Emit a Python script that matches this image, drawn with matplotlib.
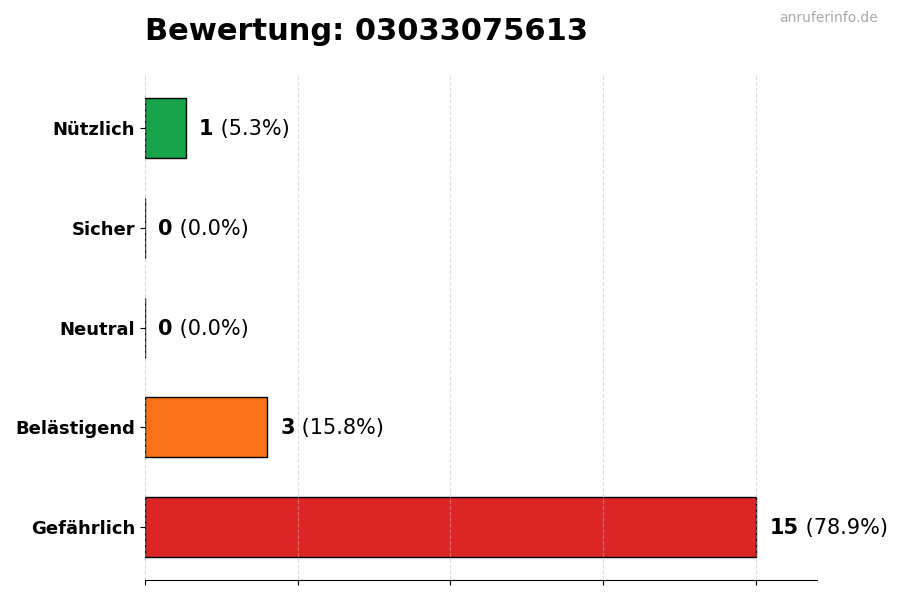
import matplotlib
matplotlib.use('Agg')
import matplotlib.pyplot as plt

# data, bottom to top
categories = ['Gefährlich', 'Belästigend', 'Neutral', 'Sicher', 'Nützlich']
counts = [15, 3, 0, 0, 1]
percents = [78.9, 15.8, 0.0, 0.0, 5.3]
colors = ['#dc2626', '#f97316', '#9ca3af', '#3b82f6', '#16a34a']
title = 'Bewertung: 03033075613'
watermark = 'anruferinfo.de'

fig = plt.figure(figsize=(9, 6), dpi=100)
ax = fig.add_axes([0.161, 0.033, 0.747, 0.842])

ypos = list(range(len(categories)))
ax.barh(ypos, counts, height=0.6, color=colors, edgecolor='black', linewidth=1, zorder=1)

xmax = max(counts)
ax.set_xlim(0, xmax * 1.1)
ax.set_xticks([xmax * k / 4 for k in range(5)])
ax.set_xticklabels([])
ax.set_yticks(ypos)
ax.set_yticklabels(categories, fontsize=13, fontweight='bold')

# grid drawn over the bars, but faint
ax.set_axisbelow(False)
ax.grid(axis='x', linestyle='--', color='#bbbbbb', linewidth=0.8, alpha=0.5)
ax.grid(axis='y', visible=False)

for s in ['top', 'right', 'left']:
    ax.spines[s].set_visible(False)

off = xmax * 0.022
for y, c, p in zip(ypos, counts, percents):
    t = ax.text(c + off, y - 0.01, str(c), fontsize=15, fontweight='bold', va='center', ha='left')
    ax.annotate(' (%.1f%%)' % p, xy=(1, 0.5), xycoords=t, fontsize=15,
                va='center', ha='left')

fig.text(0.161, 0.948, title, fontsize=22, fontweight='bold', ha='left', va='center')
fig.text(0.975, 0.97, watermark, fontsize=10, color='#aaaaaa', ha='right', va='center')

fig.savefig('out.png', dpi=100)
